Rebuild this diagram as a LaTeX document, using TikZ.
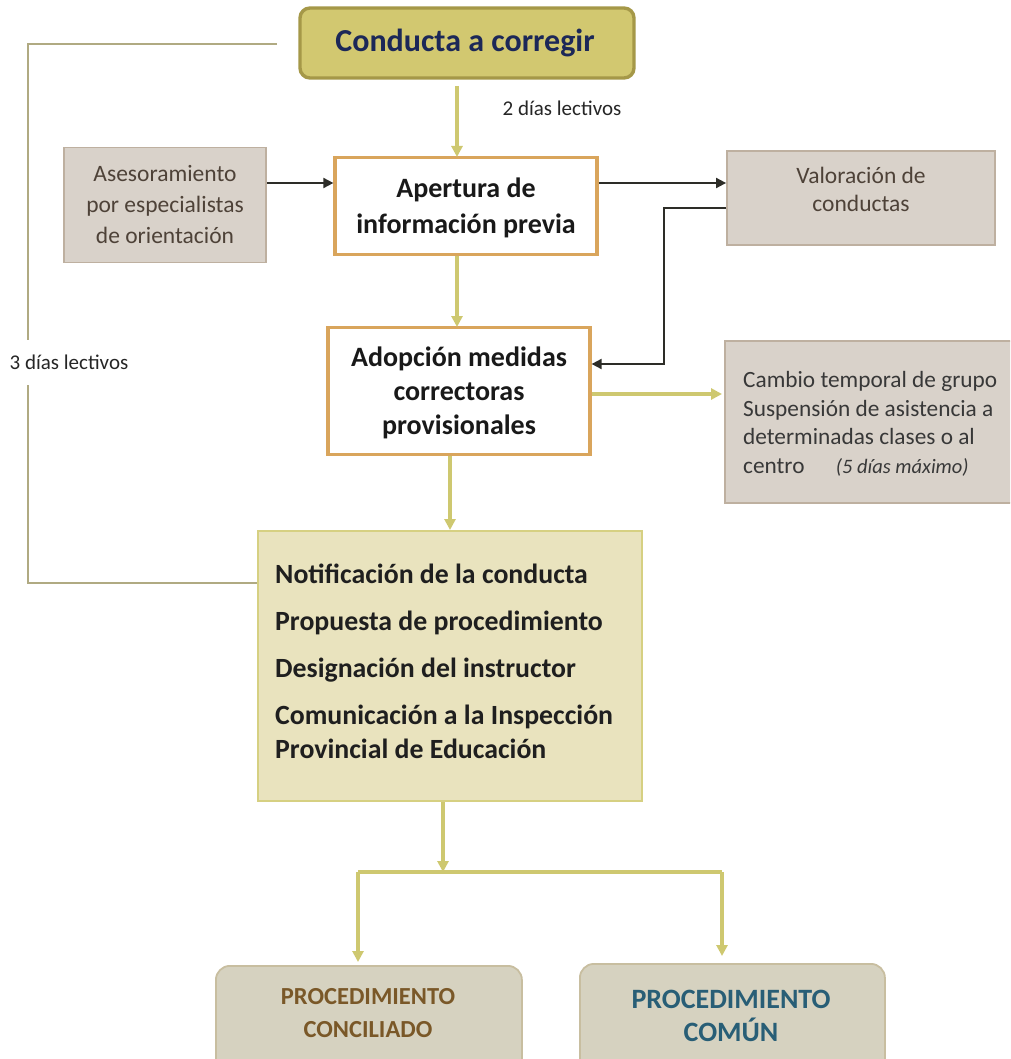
\documentclass[tikz,border=0pt]{standalone}
\usepackage{fontspec}
\setmainfont{Carlito}
\usetikzlibrary{arrows.meta}
\definecolor{condfill}{RGB}{210,200,112}
\definecolor{conddraw}{RGB}{165,152,72}
\definecolor{condtext}{RGB}{28,40,88}
\definecolor{yarrow}{RGB}{206,200,112}
\definecolor{orangeb}{RGB}{217,165,92}
\definecolor{greyfill}{RGB}{217,210,202}
\definecolor{greydraw}{RGB}{190,176,160}
\definecolor{greytext}{RGB}{78,66,56}
\definecolor{notiffill}{RGB}{233,227,190}
\definecolor{notifdraw}{RGB}{214,208,130}
\definecolor{procfill}{RGB}{214,210,192}
\definecolor{procdraw}{RGB}{200,190,160}
\definecolor{procbrown}{RGB}{122,88,40}
\definecolor{procteal}{RGB}{40,94,118}
\definecolor{leftline}{RGB}{176,170,130}
\definecolor{darkarrow}{RGB}{45,45,40}
\tikzset{
  whitebox/.style={draw=orangeb, line width=3.2pt, fill=white, inner sep=0pt, align=center, font=\fontsize{28}{34}\selectfont\bfseries, text=black!90},
  greybox/.style={draw=greydraw, line width=1.8pt, fill=greyfill, inner sep=0pt, align=center, font=\fontsize{23.5}{31}\selectfont, text=greytext},
  procbox/.style={draw=procdraw, line width=1.8pt, fill=procfill, rounded corners=14pt, inner sep=0pt, align=center},
  yarr/.style={draw=yarrow, line width=3.4pt, -{Triangle[length=11pt,width=11pt]}},
  yline/.style={draw=yarrow, line width=3.4pt},
  darr/.style={draw=darkarrow, line width=1.8pt, -{Triangle[length=10pt,width=10pt]}},
  lbl/.style={font=\fontsize{21}{24}\selectfont, text=black!85, inner sep=0pt}
}
\begin{document}
\begin{tikzpicture}[x=1pt,y=-1pt]
\useasboundingbox (0,0) rectangle (1010,1059);
\clip (0,0) rectangle (1010,1059);
% nodes
\node[draw=conddraw, line width=3.4pt, fill=condfill, rounded corners=10pt, minimum width=334pt, minimum height=70pt, inner sep=0pt] (cond) at (467,43) {};
\node[inner sep=0pt, text=condtext, font=\fontsize{32}{36}\selectfont\bfseries] (condtxt) at (465,43) {Conducta a corregir};
\node[whitebox, minimum width=262pt, minimum height=97pt] (apert) at (466,206) {};
\node[inner sep=0pt, align=center, text=black!90, font=\fontsize{28}{36}\selectfont\bfseries] (aperttxt) at (466,208) {Apertura de\\información previa};
\node[greybox, minimum width=202pt, minimum height=115pt] (ases) at (165,205) {Asesoramiento\\por especialistas\\de orientación};
\node[greybox, anchor=north, minimum width=268pt, minimum height=94pt] (valor) at (861,150) {};
\node[text=greytext, font=\fontsize{23.5}{28}\selectfont, align=center, inner sep=0pt] (valtxt) at (861,189) {Valoración de\\conductas};
\node[whitebox, minimum width=262pt, minimum height=127pt] (adop) at (459,391) {};
\node[inner sep=0pt, align=center, text=black!90, font=\fontsize{28}{34}\selectfont\bfseries] (adoptxt) at (459,393) {Adopción medidas\\correctoras\\provisionales};
\node[greybox, anchor=north west, minimum width=290pt, minimum height=162pt] (camb) at (724,340) {};
\node[anchor=west, inner sep=0pt, align=left, text=black!78, font=\fontsize{23.3}{28.5}\selectfont] (cambtxt) at (743,424) {Cambio temporal de grupo\\Suspensión de asistencia a\\determinadas clases o al\\centro \hspace{26pt}{\fontsize{20.5}{24}\selectfont\itshape (5 días máximo)}};
\node[draw=notifdraw, line width=2.2pt, fill=notiffill, anchor=north west, minimum width=384pt, minimum height=270pt, inner sep=0pt] (notif) at (257,530) {};
\node[anchor=west, inner sep=0pt, align=left, text=black!88, font=\fontsize{27.8}{34}\selectfont\bfseries] (notiftxt) at (275,661) {Notificación de la conducta\\[13pt]Propuesta de procedimiento\\[13pt]Designación del instructor\\[13pt]Comunicación a la Inspección\\Provincial de Educación};
\node[procbox, anchor=north west, minimum width=306pt, minimum height=130pt] (conc) at (215,965) {};
\node[anchor=center, align=center, inner sep=0pt, text=procbrown, font=\fontsize{24.5}{33}\selectfont\bfseries] (conctxt) at (368,1013) {PROCEDIMIENTO\\CONCILIADO};
\node[procbox, anchor=north west, minimum width=305pt, minimum height=130pt] (comun) at (579,963) {};
\node[anchor=center, align=center, inner sep=0pt, text=procteal, font=\fontsize{28}{33}\selectfont\bfseries] (comuntxt) at (731,1016) {PROCEDIMIENTO\\COMÚN};
% labels
\node[lbl] (l2) at (562,108) {2 días lectivos};
\node[lbl] (l3) at (69,362) {3 días lectivos};
% coordinates
\coordinate (c1) at (457,86);
\coordinate (split) at (443,872);
\coordinate (sl) at (358,872);
\coordinate (sr) at (722,872);
\coordinate (tl) at (358,962);
\coordinate (tr) at (722,956);
\coordinate (lt) at (277,44);
\coordinate (ltop) at (28,44);
\coordinate (lbot) at (28,583);
\coordinate (lgap1) at (28,340);
\coordinate (lgap2) at (28,385);
% connectors
\draw[yarr] (c1) -- (457,157);
\draw[yarr] (apert.south -| 457,0) -- (457,327);
\draw[yarr] (adop.south -| 450,0) -- (450,530);
\draw[yarr] (adop.east |- 0,394) -- (722,394);
\draw[darr] (ases.east |- 0,183) -- (apert.west |- 0,183);
\draw[darr] (apert.east |- 0,183) -- (valor.west |- 0,183);
\draw[darr] (valor.west |- 0,208) -- (664,208) -- (664,364) -- (adop.east |- 0,364);
\draw[yarr] (notif.south -| split) -- (split);
\draw[yline] (sl) -- (sr);
\draw[yarr] (sl) -- (tl);
\draw[yarr] (sr) -- (tr);
\draw[leftline, line width=1.8pt] (lt) -- (ltop) -- (lgap1);
\draw[leftline, line width=1.8pt] (lgap2) -- (lbot) -- (notif.west |- lbot);
\end{tikzpicture}
\end{document}
